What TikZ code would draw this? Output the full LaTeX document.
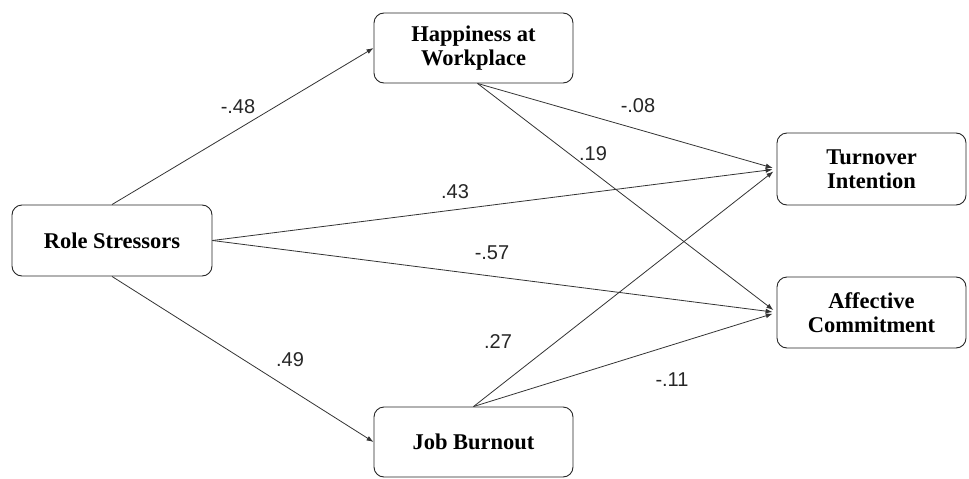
\documentclass[tikz,border=0pt]{standalone}
\usepackage{fontspec}
\setmainfont{Liberation Serif}
\newfontfamily\coeffont{Liberation Sans}
\usetikzlibrary{arrows.meta}
\begin{document}
\begin{tikzpicture}[
    x=1pt, y=-1pt,
    var/.style={rectangle, draw=black!85, line width=0.9pt, rounded corners=10pt,
        align=center, inner sep=0pt, font=\fontsize{22.5}{24}\selectfont\bfseries},
    path/.style={draw=black!80, line width=0.8pt, -{Latex[length=7pt,width=5pt]}},
    coef/.style={inner sep=0pt, font=\coeffont\fontsize{20}{22}\selectfont, text=black!85}
]
\useasboundingbox (0,0) rectangle (969,479);
% variables
\node[var, minimum width=200pt, minimum height=71pt] (rs) at (112,240.5) {Role Stressors};
\node[var, minimum width=199pt, minimum height=70pt] (hw) at (473.5,48) {Happiness at\\Workplace};
\node[var, minimum width=199pt, minimum height=70pt] (jb) at (473.5,442) {Job Burnout};
\node[var, minimum width=189pt, minimum height=72pt] (ti) at (871.5,169) {Turnover\\Intention};
\node[var, minimum width=189pt, minimum height=71pt] (ac) at (871.5,312.5) {Affective\\Commitment};
% paths
\draw[path] (rs.north) -- (hw.west);
\draw[path] (rs.south) -- (jb.west);
\draw[path, shorten >=4pt] (rs.east) -- (ti.west);
\draw[path, shorten >=4pt] (rs.east) -- (ac.west);
\draw[path, shorten >=4pt] ([xshift=4pt]hw.south) -- (ti.west);
\draw[path, shorten >=4pt] ([xshift=4pt]hw.south) -- (ac.west);
\draw[path, shorten >=4pt] (jb.north) -- (ti.west);
\draw[path, shorten >=4pt] (jb.north) -- (ac.west);
% coefficients
\node[coef] (c48) at (238,107) {-.48};
\node[coef] (c08) at (638,106) {-.08};
\node[coef] (c19) at (593,154) {.19};
\node[coef] (c43) at (455,192) {.43};
\node[coef] (c57) at (492,253) {-.57};
\node[coef] (c49) at (290,360) {.49};
\node[coef] (c27) at (498,342) {.27};
\node[coef] (c11) at (672,380) {-.11};
\end{tikzpicture}
\end{document}
